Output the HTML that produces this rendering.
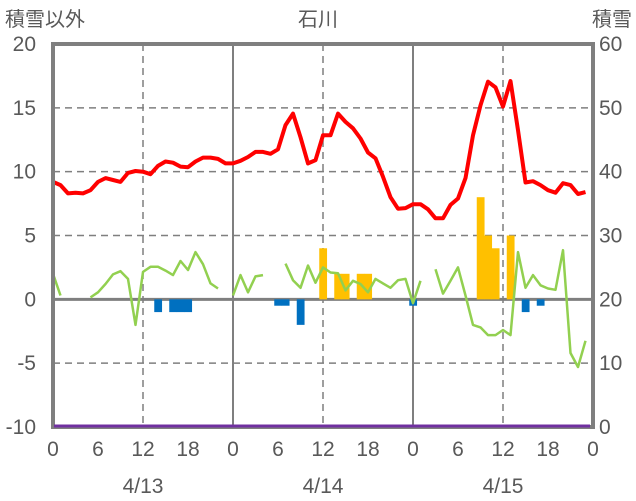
<!DOCTYPE html>
<html><head><meta charset="utf-8">
<style>
html,body{margin:0;padding:0;background:#fff;}
svg{display:block;font-family:"Liberation Sans Narrow","Liberation Sans","Noto Sans CJK JP",sans-serif;}
</style></head>
<body>
<svg id="chart" width="636" height="501" viewBox="0 0 636 501" xmlns="http://www.w3.org/2000/svg">
<text x="5" y="26" font-size="20" fill="#595959" font-family="'Liberation Sans','Noto Sans CJK JP',sans-serif">積雪以外</text>
<text x="318" y="26" font-size="20" fill="#595959" text-anchor="middle" font-family="'Liberation Sans','Noto Sans CJK JP',sans-serif">石川</text>
<text x="632" y="26" font-size="20" fill="#595959" text-anchor="end" font-family="'Liberation Sans','Noto Sans CJK JP',sans-serif">積雪</text>
<g id="grid"></g><g id="bars"></g><g id="lines"></g><g id="axes"></g><g id="top"></g>
</svg>
<script>
const hourTicks = ["0","6","12","18","0","6","12","18","0","6","12","18","0"];
const dateLabels = ["4/13","4/14","4/15"];
const leftTicks = [20,15,10,5,0,-5,-10];
const rightTicks = ["60","50","40","30","20","10","0"];
const tempRed = [9.2,8.95,8.3,8.35,8.3,8.55,9.2,9.5,9.35,9.2,9.9,10.05,10.0,9.8,10.45,10.8,10.7,10.4,10.35,10.8,11.1,11.1,11.0,10.65,10.65,10.85,11.15,11.55,11.55,11.4,11.75,13.65,14.55,12.7,10.65,10.9,12.85,12.85,14.55,13.9,13.4,12.6,11.5,11.05,9.6,8.0,7.1,7.15,7.45,7.45,7.05,6.35,6.35,7.4,7.9,9.5,12.85,15.2,17.05,16.6,15.1,17.1,13.25,9.15,9.25,8.95,8.55,8.35,9.1,8.95,8.25,8.4];
const greenSeries = [2.0,0.3,null,null,null,0.15,0.55,1.2,1.95,2.2,1.6,-2.0,2.15,2.55,2.55,2.25,1.9,3.0,2.3,3.7,2.75,1.25,0.85,null,0.3,1.9,0.55,1.8,1.9,null,null,2.8,1.5,0.9,2.65,1.3,2.5,2.1,2.05,0.7,1.45,1.2,0.55,1.6,1.25,0.9,1.5,1.6,-0.3,1.45,null,2.35,0.45,1.45,2.5,0.3,-2.0,-2.2,-2.8,-2.8,-2.4,-2.8,3.7,0.9,1.9,1.1,0.85,0.75,3.85,-4.2,-5.3,-3.25];
const snowHours = [36,38,39,41,42,57,58,59,61];
const snowValues = [4,2,2,2,2,8,5,4,5];
const blueHours = [14,16,17,18,30,31,33,48,63,65];
const blueValues = [-1,-1,-1,-1,-0.5,-0.5,-2,-0.5,-1,-0.5];
const depthValues = [0,0];

const X0=53,X1=593,Y20=44,Ym10=427;
const xs=h=>X0+(X1-X0)*h/72;
const ys=v=>Y20+(20-v)*(Ym10-Y20)/30;
const NS="http://www.w3.org/2000/svg";
function mk(tag,parent,attrs){const e=document.createElementNS(NS,tag);for(const k in attrs)e.setAttribute(k,attrs[k]);document.getElementById(parent).appendChild(e);return e;}

leftTicks.forEach(v=>{
  if(v===20||v===-10)return;
  const l=mk('line','grid',{x1:X0,x2:X1,y1:ys(v),y2:ys(v),stroke:'#7f7f7f','stroke-width':v===0?3:1.5,'stroke-dasharray':v===0?'':'7,5'});
  
  
});
for(let h=12;h<72;h+=12){
  const solid=h%24===0;
  const l=mk('line','grid',{x1:xs(h),x2:xs(h),y1:Y20,y2:Ym10,stroke:'#7f7f7f','stroke-width':solid?2:1.5,'stroke-dasharray':solid?'':'7,5'});
  
  
}
const bw=(X1-X0)/72;
snowHours.forEach((h,i)=>{
  const v=snowValues[i];
  const r=mk('rect','bars',{x:xs(h)-bw/2,y:ys(v),width:bw+0.3,height:ys(0)-ys(v),fill:'#ffc000'});
  
  
});
blueHours.forEach((h,i)=>{
  const v=blueValues[i];
  const r=mk('rect','bars',{x:xs(h)-bw/2,y:ys(0),width:bw+0.3,height:ys(v)-ys(0),fill:'#0070c0'});
  
  
});
let d='',pen=false;
greenSeries.forEach((v,h)=>{
  if(v===null){pen=false;return;}
  d+=(pen?'L':'M')+xs(h).toFixed(1)+','+ys(v).toFixed(1);pen=true;
});
const g=mk('path','lines',{d:d,fill:'none',stroke:'#92d050','stroke-width':2.5,'stroke-linejoin':'round'});


const rd=tempRed.map((v,h)=>(h?'L':'M')+xs(h).toFixed(1)+','+ys(v).toFixed(1)).join('');
const r=mk('path','lines',{d:rd,fill:'none',stroke:'#ff0000','stroke-width':4,'stroke-linejoin':'round'});


const b=mk('rect','axes',{x:X0,y:Y20,width:X1-X0,height:Ym10-Y20,fill:'none',stroke:'#7f7f7f','stroke-width':4});


const p=mk('line','top',{x1:X0+1,x2:X1-3,y1:ys(depthValues[0]*2-10)-1,y2:ys(depthValues[1]*2-10)-1,stroke:'#7030a0','stroke-width':3});


leftTicks.forEach((v,i)=>{
  const t=mk('text','axes',{x:36,y:ys(v)+7,'font-size':21,fill:'#595959','text-anchor':'end'});
  t.textContent=String(v);
  
  
  const t2=mk('text','axes',{x:599,y:ys(v)+7,'font-size':21,fill:'#595959'});
  t2.textContent=rightTicks[i];
  
  
});
hourTicks.forEach((s,i)=>{
  const t=mk('text','axes',{x:xs(i*6),y:456,'font-size':21,fill:'#595959','text-anchor':'middle'});
  t.textContent=s;
  
  
});
dateLabels.forEach((s,i)=>{
  const t=mk('text','axes',{x:xs(12+24*i),y:493,'font-size':21,fill:'#595959','text-anchor':'middle'});
  t.textContent=s;
  
  
});
</script>
</body></html>
